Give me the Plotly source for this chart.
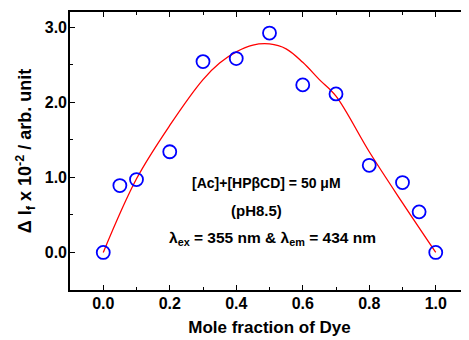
import plotly.graph_objects as go

# measured data
mole_fraction = [0.0, 0.05, 0.1, 0.2, 0.3, 0.4, 0.5, 0.6, 0.7, 0.8, 0.9, 0.95, 1.0]
delta_if = [0.0, 0.89, 0.97, 1.34, 2.54, 2.58, 2.92, 2.23, 2.11, 1.16, 0.93, 0.54, 0.0]

# fitted curve
fit_x = [0.0, 0.1, 0.2, 0.3, 0.35, 0.4, 0.45, 0.5, 0.55, 0.6, 0.65, 0.7, 0.8, 0.9, 1.0]
fit_y = [0.0, 0.98, 1.69, 2.30, 2.52, 2.67, 2.76, 2.775, 2.71, 2.53, 2.30, 2.08, 1.34, 0.66, 0.0]

x_ticks = [0.0, 0.2, 0.4, 0.6, 0.8, 1.0]
y_ticks = [0.0, 1.0, 2.0, 3.0]

FONT = "Arial, 'Liberation Sans', sans-serif"

fig = go.Figure()
fig.add_trace(go.Scatter(x=fit_x, y=fit_y, mode="lines",
                         line=dict(color="#ff0000", width=1.3, shape="spline", smoothing=1.0),
                         showlegend=False, hoverinfo="skip"))
fig.add_trace(go.Scatter(x=mole_fraction, y=delta_if, mode="markers",
                         marker=dict(symbol="circle-open", size=13, color="#0000ff",
                                     line=dict(width=1.8, color="#0000ff")),
                         showlegend=False))

fig.update_layout(
    width=469, height=340,
    margin=dict(l=62, r=8, t=4, b=58),
    paper_bgcolor="white", plot_bgcolor="white",
    font=dict(family=FONT, color="black"),
    xaxis=dict(range=[-0.1, 1.1], tickvals=x_ticks, ticktext=[f"{v:.1f}" for v in x_ticks],
               automargin=False, ticklabelstandoff=-2,
               ticks="inside", ticklen=5, tickwidth=1.2, tickcolor="black",
               minor=dict(tickvals=[0.1, 0.3, 0.5, 0.7, 0.9], ticks="inside", ticklen=3,
                          tickcolor="black", tickwidth=1),
               showline=True, linecolor="black", linewidth=1.6, mirror="ticks",
               showgrid=False, zeroline=False,
               tickfont=dict(size=16, family=FONT, weight="bold"),
               title=dict(text="Mole fraction of Dye", font=dict(size=17, family=FONT, weight="bold"),
                          standoff=10)),
    yaxis=dict(range=[-0.5, 3.2], tickvals=y_ticks, ticktext=[f"{v:.1f}" for v in y_ticks],
               automargin=False, ticklabelstandoff=-2,
               ticks="inside", ticklen=5, tickwidth=1.2, tickcolor="black",
               minor=dict(tickvals=[0.5, 1.5, 2.5], ticks="inside", ticklen=3,
                          tickcolor="black", tickwidth=1),
               showline=True, linecolor="black", linewidth=1.6,
               showgrid=False, zeroline=False,
               tickfont=dict(size=16, family=FONT, weight="bold"),
               title=dict(text="Δ I<sub>f</sub> x 10<sup>-2</sup> / arb. unit",
                          font=dict(size=18, family=FONT, weight="bold"), standoff=8)),
)

ann_font = dict(size=14, family=FONT, color="black", weight="bold")
fig.add_annotation(x=0.49, y=0.92, xref="x", yref="y", text="[Ac]+[HPβCD] = 50 μM",
                   showarrow=False, font=ann_font)
fig.add_annotation(x=0.46, y=0.56, xref="x", yref="y", text="(pH8.5)",
                   showarrow=False, font=dict(size=15, family=FONT, color="black", weight="bold"))
fig.add_annotation(x=0.51, y=0.19, xref="x", yref="y",
                   text="λ<sub>ex</sub> = 355 nm &amp; λ<sub>em</sub> = 434 nm",
                   showarrow=False, font=dict(size=15.5, family=FONT, color="black", weight="bold"))

fig.write_html("out.html")
